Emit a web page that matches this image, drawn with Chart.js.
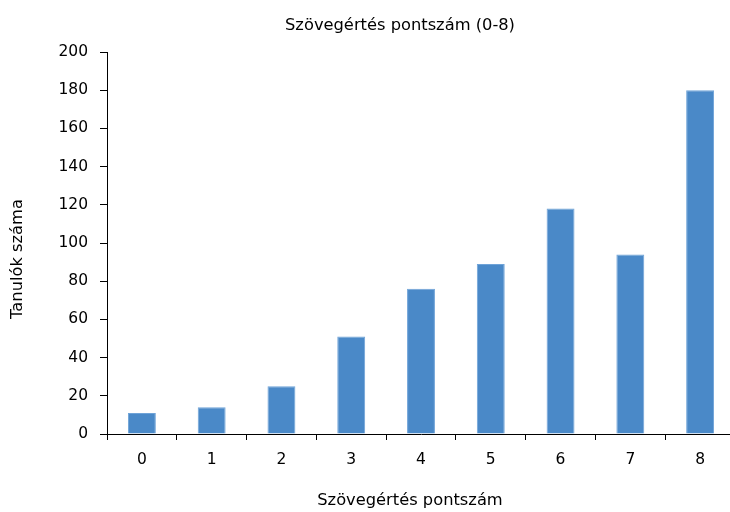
<!DOCTYPE html>
<html>
<head>
<meta charset="utf-8">
<script src="https://cdn.jsdelivr.net/npm/chart.js@4/dist/chart.umd.min.js"></script>
<style>
  html, body { margin: 0; padding: 0; background: #fff; overflow: hidden; }
  #wrap { width: 736px; height: 512px; }
</style>
</head>
<body>
<div id="wrap"><canvas id="c" width="736" height="512"></canvas></div>
<script>
// Score categories (0-8) and number of students per score
const scores = ['0', '1', '2', '3', '4', '5', '6', '7', '8'];
const students = [11, 14, 25, 51, 76, 89, 118, 94, 180];
const yTicks = [0, 20, 40, 60, 80, 100, 120, 140, 160, 180, 200];

const chartTitle = 'Szövegértés pontszám (0-8)';
const xTitle = 'Szövegértés pontszám';
const yTitle = 'Tanulók száma';

const FONT = 'DejaVu Sans';

// Titles placed relative to the plot area
const titlesPlugin = {
  id: 'titles',
  afterDraw(chart) {
    const ctx = chart.ctx;
    const a = chart.chartArea;
    ctx.save();
    ctx.fillStyle = '#000';
    ctx.textBaseline = 'middle';
    ctx.textAlign = 'center';
    ctx.font = '16.3px "' + FONT + '"';
    ctx.fillText(chartTitle, (a.left + a.right) / 2 - 21, 26);
    ctx.fillText(xTitle, (a.left + a.right) / 2 - 11, 501);
    ctx.translate(18, (a.top + a.bottom) / 2 + 16);
    ctx.rotate(-Math.PI / 2);
    ctx.fillText(yTitle, 0, 0);
    ctx.restore();
  }
};

new Chart(document.getElementById('c'), {
  type: 'bar',
  data: {
    labels: scores,
    datasets: [{
      data: students,
      backgroundColor: '#4a89c8',
      borderColor: '#6fa3d8',
      borderWidth: { top: 1, left: 1, right: 1, bottom: 0 },
      categoryPercentage: 1,
      barPercentage: 0.4
    }]
  },
  options: {
    responsive: false,
    animation: false,
    layout: { padding: { top: 52, right: 1, left: 0, bottom: 0 } },
    plugins: {
      legend: { display: false },
      tooltip: { enabled: false }
    },
    scales: {
      x: {
        afterFit(scale) { scale.height = 78; },
        grid: {
          offset: true,
          drawOnChartArea: false,
          drawTicks: true,
          tickLength: 6,
          color: '#000',
          tickWidth: 1
        },
        border: { color: '#000', width: 1 },
        ticks: {
          color: '#000',
          font: { family: FONT, size: 15.5 },
          padding: 11,
          maxRotation: 0
        }
      },
      y: {
        min: 0,
        max: 200,
        afterFit(scale) { scale.width = 107; },
        afterBuildTicks(scale) { scale.ticks = yTicks.map(v => ({ value: v })); },
        grid: {
          drawOnChartArea: false,
          drawTicks: true,
          tickLength: 7,
          color: '#000',
          tickWidth: 1
        },
        border: { color: '#000', width: 1 },
        ticks: {
          color: '#000',
          font: { family: FONT, size: 15.5 },
          padding: 12
        }
      }
    }
  },
  plugins: [titlesPlugin]
});
</script>
</body>
</html>
